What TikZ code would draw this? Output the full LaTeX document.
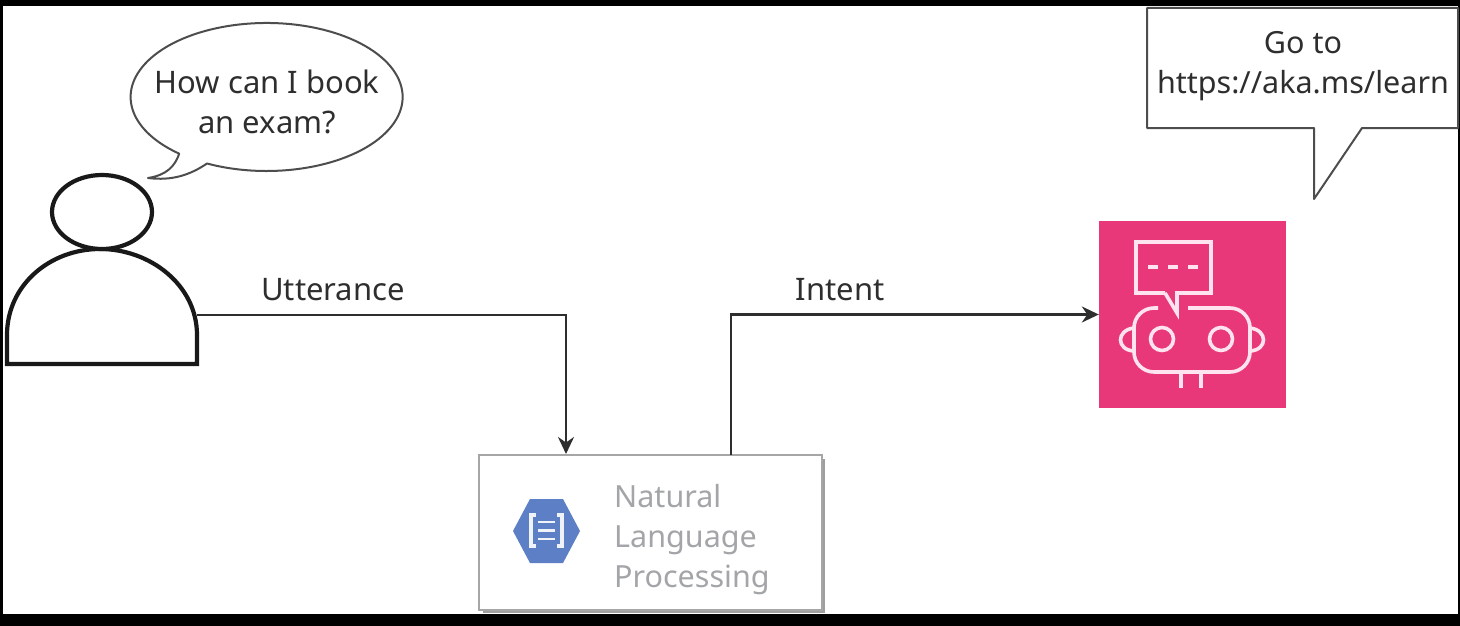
\documentclass[tikz,border=0pt]{standalone}
\usepackage{fontspec}
\setmainfont{Noto Sans}
\usetikzlibrary{arrows.meta,shapes.geometric,calc}
\definecolor{ink}{HTML}{2E2E2E}
\definecolor{pinkbg}{HTML}{E8387A}
\definecolor{pinkline}{HTML}{FFE3EF}
\definecolor{hexblue}{HTML}{5C7FC6}
\definecolor{nlpgrey}{HTML}{A3A5A8}
\tikzset{
  label text/.style={font=\fontsize{31}{40}\selectfont, text=ink, align=center, inner sep=0pt},
  person line/.style={draw=black!90, line width=4.2pt, fill=white},
  bubble line/.style={draw=ink!85, line width=2pt, fill=white, line join=round},
  connector/.style={draw=ink, line width=2.3pt, -{Stealth[length=17pt,width=16pt]}},
  robot line/.style={draw=pinkline, line width=3.6pt},
}
\begin{document}
\begin{tikzpicture}[x=1pt,y=-1pt]
\path[use as bounding box, fill=black] (0,0) rectangle (1460,626);
\fill[white] (3,6) rectangle (1458,614);

% person
\draw[person line] (7,364) -- (7,335) .. controls (7,285) and (50,249) .. (100,249)
  .. controls (150,249) and (197,285) .. (197,335) -- (197,364) -- cycle;
\node[person line, ellipse, minimum width=100pt, minimum height=74pt, inner sep=0pt] (head) at (102,212) {};
\coordinate (userport) at (197,315);

% speech bubble
\draw[bubble line] (207,163.5) arc[start angle=116, delta angle=-346, x radius=136, y radius=74]
  .. controls (175,166) and (167,175) .. (148,178)
  .. controls (172,181) and (190,175) .. cycle;
\node[label text] (askbubble) at (267,102) {How can I book\\an exam?};

% answer bubble
\draw[bubble line] (1147,8) -- (1458,8) -- (1458,128) -- (1362,128) -- (1314,199) -- (1314,128) -- (1147,128) -- cycle;
\node[label text, font=\fontsize{30.5}{40}\selectfont] (answer) at (1303,66) {Go to\\https://aka.ms/learn};

% NLP box
\fill[black!38] (483,459) rectangle (825,613);
\node[draw=black!35, line width=1.6pt, fill=white, minimum width=343pt, minimum height=155pt, inner sep=0pt] (nlp) at (650.5,532.5) {};
\coordinate (nlpin) at (566,454);
\coordinate (nlpout) at (731,455);
\fill[hexblue] (513,531) -- (530,499) -- (563,499) -- (580,531) -- (563,563) -- (530,563) -- cycle;
\draw[white!90!hexblue, line width=3.2pt] (536,515) -- (531,515) -- (531,546) -- (536,546);
\draw[white!90!hexblue, line width=3.2pt] (557,515) -- (562,515) -- (562,546) -- (557,546);
\draw[white!90!hexblue, line width=2.6pt] (538,522) -- (555,522) (538,530.5) -- (555,530.5) (538,539) -- (555,539);
\node[font=\fontsize{30.5}{40}\selectfont, text=nlpgrey, align=left, anchor=west, inner sep=0pt] (nlptext) at (614,540) {Natural\\Language\\Processing};

% robot
\node[fill=pinkbg, minimum width=187pt, minimum height=187pt, inner sep=0pt] (robot) at (1192.5,314.5) {};
\draw[robot line] (1165,293) -- (1136,293) -- (1136,242) -- (1211,242) -- (1211,293) -- (1177,293) -- (1177,313) -- (1165,293);
\draw[robot line] (1148,267) -- (1158,267) (1168,267) -- (1178,267) (1188,267) -- (1198,267);
\draw[robot line, rounded corners=20pt] (1158,308) -- (1134,308) -- (1134,372) -- (1250,372) -- (1250,308) -- (1188,308);
\draw[robot line] (1134,328) .. controls (1116,330) and (1116,350) .. (1134,351);
\draw[robot line] (1250,328) .. controls (1268,330) and (1268,350) .. (1250,351);
\draw[robot line] (1162,339) circle[radius=11.5];
\draw[robot line] (1221,339) circle[radius=11.5];
\draw[robot line] (1181,372) -- (1181,388) (1201,372) -- (1201,388);

% connectors
\draw[connector] (userport) -| (nlpin);
\draw[connector] (nlpout) |- (robot.west);
\node[label text] (utterance) at (333,290) {Utterance};
\node[label text] (intent) at (840,290) {Intent};
\end{tikzpicture}
\end{document}
